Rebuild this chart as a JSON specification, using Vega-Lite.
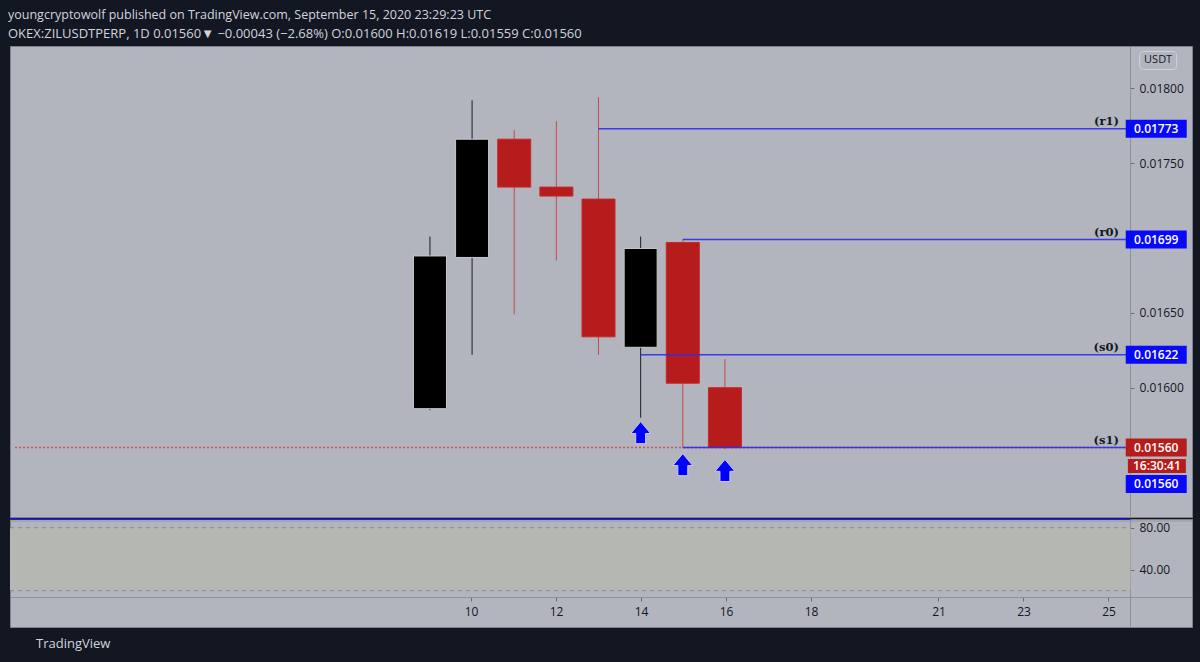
{
  "$schema": "https://vega.github.io/schema/vega-lite/v6.json",
  "background": "#131722",
  "padding": {"left": 8, "top": 9, "right": 10, "bottom": 14},
  "title": {
    "text": "youngcryptowolf published on TradingView.com, September 15, 2020 23:29:23 UTC",
    "subtitle": "OKEX:ZILUSDTPERP, 1D 0.01560▼ −0.00043 (−2.68%) O:0.01600 H:0.01619 L:0.01559 C:0.01560",
    "anchor": "start", "frame": "group", "dx": -2,
    "font": "Open Sans", "fontSize": 12.5, "fontWeight": "normal", "color": "#d1d4dc",
    "subtitleFont": "Open Sans", "subtitleFontSize": 13, "subtitleColor": "#d1d4dc",
    "subtitlePadding": 6, "offset": 5
  },
  "datasets": {
    "candles": [
      {"day": 9, "open": 0.01586, "high": 0.01701, "low": 0.01585, "close": 0.01688},
      {"day": 10, "open": 0.01687, "high": 0.01792, "low": 0.01622, "close": 0.01766},
      {"day": 11, "open": 0.01766, "high": 0.01772, "low": 0.01649, "close": 0.01734},
      {"day": 12, "open": 0.01734, "high": 0.01778, "low": 0.01685, "close": 0.01728},
      {"day": 13, "open": 0.01726, "high": 0.01794, "low": 0.01622, "close": 0.01634},
      {"day": 14, "open": 0.01627, "high": 0.01701, "low": 0.0158, "close": 0.01693},
      {"day": 15, "open": 0.01697, "high": 0.01699, "low": 0.0156, "close": 0.01603},
      {"day": 16, "open": 0.016, "high": 0.01619, "low": 0.01559, "close": 0.0156}
    ],
    "levels": [
      {"name": "(r1)", "price": 0.01773, "start": 13},
      {"name": "(r0)", "price": 0.01699, "start": 15},
      {"name": "(s0)", "price": 0.01622, "start": 14},
      {"name": "(s1)", "price": 0.0156, "start": 15}
    ],
    "last": [{"price": 0.0156}],
    "arrows": [
      {"day": 14, "price": 0.0157},
      {"day": 15, "price": 0.015486},
      {"day": 16, "price": 0.015447}
    ],
    "boxes": [
      {"label": "0.01773", "pos": 0.01773, "kind": "blue"},
      {"label": "0.01699", "pos": 0.01699, "kind": "blue"},
      {"label": "0.01622", "pos": 0.01622, "kind": "blue"},
      {"label": "0.01560", "pos": 0.0156, "kind": "red"},
      {"label": "0.01560", "pos": 0.015357, "kind": "blue"}
    ],
    "timer": [{"label": "16:30:41", "pos": 0.015477}],
    "unit": [{"label": "USDT", "pos": 0.018186}],
    "band": [{"lo": 20, "hi": 80}],
    "bandLines": [{"v": 80}, {"v": 20}]
  },
  "spacing": 0,
  "vconcat": [
    {
      "width": 1182,
      "height": 471,
      "layer": [
        {
          "data": {"name": "candles"},
          "mark": {"type": "rule", "strokeWidth": 1, "clip": true},
          "encoding": {
            "x": {"field": "day", "type": "quantitative", "title": null,
                  "scale": {"domain": [-0.847, 26.965], "nice": false, "zero": false}, "axis": null},
            "y": {"field": "low", "type": "quantitative", "title": null,
                  "scale": {"domain": [0.0151363, 0.0182826], "nice": false, "zero": false},
                  "axis": {"orient": "right", "offset": -62, "values": [0.016, 0.0165, 0.0175, 0.018],
                           "format": ".5f", "tickSize": 4, "labelPadding": 5, "labelAlign": "left",
                           "domainColor": "#8e919a", "tickColor": "#6a6d78",
                           "labelColor": "#131722", "labelFont": "Open Sans", "labelFontSize": 12, "grid": false}},
            "y2": {"field": "high"},
            "color": {"condition": {"test": "datum.close >= datum.open", "value": "#1e1e22"}, "value": "#c44a4a"}
          }
        },
        {
          "data": {"name": "last"},
          "mark": {"type": "rule", "color": "#d23a3a", "strokeDash": [2, 2], "strokeWidth": 1.5, "opacity": 0.8, "clip": true},
          "encoding": {
            "x": {"datum": -0.847, "type": "quantitative"},
            "x2": {"datum": 25.517},
            "y": {"field": "price", "type": "quantitative", "title": null}
          }
        },
        {
          "data": {"name": "candles"},
          "mark": {"type": "bar", "width": 33, "strokeWidth": 1, "clip": true},
          "encoding": {
            "x": {"field": "day", "type": "quantitative", "title": null},
            "y": {"field": "open", "type": "quantitative", "title": null},
            "y2": {"field": "close"},
            "fill": {"condition": {"test": "datum.close >= datum.open", "value": "#000000"}, "value": "#b71c1c"},
            "stroke": {"condition": {"test": "datum.close >= datum.open", "value": "#c6c8ce"}, "value": "#c62828"}
          }
        },
        {
          "data": {"name": "levels"},
          "mark": {"type": "rule", "color": "#2b2bf5", "strokeWidth": 1.5, "opacity": 0.9},
          "encoding": {
            "x": {"field": "start", "type": "quantitative", "title": null},
            "x2": {"datum": 25.517},
            "y": {"field": "price", "type": "quantitative", "title": null}
          }
        },
        {
          "data": {"name": "levels"},
          "mark": {"type": "text", "align": "right", "baseline": "bottom", "dx": -7, "dy": -2,
                   "font": "DejaVu Serif", "fontSize": 11.5, "fontWeight": "bold", "color": "#131722"},
          "encoding": {
            "x": {"datum": 25.517, "type": "quantitative"},
            "y": {"field": "price", "type": "quantitative", "title": null},
            "text": {"field": "name"}
          }
        },
        {
          "data": {"name": "arrows"},
          "mark": {"type": "point", "filled": true, "size": 484,
                   "shape": "M0,-1L0.9,0.08L0.45,0.08L0.45,1L-0.45,1L-0.45,0.08L-0.9,0.08Z",
                   "fill": "#0000ff", "stroke": "#c8c8f2", "strokeWidth": 1, "opacity": 1},
          "encoding": {
            "x": {"field": "day", "type": "quantitative", "title": null},
            "y": {"field": "price", "type": "quantitative", "title": null}
          }
        },
        {
          "data": {"name": "boxes"},
          "mark": {"type": "tick", "orient": "horizontal", "size": 61, "thickness": 18, "opacity": 1},
          "encoding": {
            "x": {"datum": 26.235, "type": "quantitative"},
            "y": {"field": "pos", "type": "quantitative", "title": null},
            "color": {"condition": {"test": "datum.kind == 'blue'", "value": "#0808ff"}, "value": "#b71c1c"}
          }
        },
        {
          "data": {"name": "timer"},
          "mark": {"type": "tick", "orient": "horizontal", "size": 58, "thickness": 14, "color": "#b71c1c", "opacity": 1},
          "encoding": {
            "x": {"datum": 26.25, "type": "quantitative"},
            "y": {"field": "pos", "type": "quantitative", "title": null}
          }
        },
        {
          "data": {"name": "unit"},
          "mark": {"type": "tick", "orient": "horizontal", "size": 37, "thickness": 18, "color": "#b2b5be",
                   "stroke": "#d2d4da", "strokeWidth": 1, "cornerRadius": 4, "opacity": 1},
          "encoding": {
            "x": {"datum": 26.28, "type": "quantitative"},
            "y": {"field": "pos", "type": "quantitative", "title": null}
          }
        },
        {
          "data": {"name": "unit"},
          "mark": {"type": "text", "font": "Open Sans", "fontSize": 11, "color": "#131722", "align": "center", "baseline": "middle"},
          "encoding": {
            "x": {"datum": 26.28, "type": "quantitative"},
            "y": {"field": "pos", "type": "quantitative", "title": null},
            "text": {"field": "label"}
          }
        },
        {
          "data": {"name": "boxes"},
          "mark": {"type": "text", "font": "Open Sans", "fontSize": 12, "fontWeight": 600, "color": "#ffffff", "align": "center", "baseline": "middle"},
          "encoding": {
            "x": {"datum": 26.235, "type": "quantitative"},
            "y": {"field": "pos", "type": "quantitative", "title": null},
            "text": {"field": "label"}
          }
        },
        {
          "data": {"name": "timer"},
          "mark": {"type": "text", "font": "Open Sans", "fontSize": 12, "fontWeight": 600, "color": "#ffffff", "align": "center", "baseline": "middle"},
          "encoding": {
            "x": {"datum": 26.25, "type": "quantitative"},
            "y": {"field": "pos", "type": "quantitative", "title": null},
            "text": {"field": "label"}
          }
        }
      ]
    },
    {
      "width": 1182,
      "height": 108,
      "title": {"text": "TradingView", "orient": "bottom", "anchor": "start", "frame": "group", "dx": 26, "offset": 11,
                "color": "#d1d4dc", "font": "Open Sans", "fontSize": 13, "fontWeight": "normal"},
      "layer": [
        {
          "data": {"name": "band"},
          "mark": {"type": "rect", "color": "#b5b7b3"},
          "encoding": {
            "x": {"datum": -0.847, "type": "quantitative",
                  "scale": {"domain": [-0.847, 26.965], "nice": false, "zero": false},
                  "axis": {"orient": "bottom", "offset": -30, "values": [10, 12, 14, 16, 18, 21, 23, 25],
                           "format": "d", "tickSize": 4, "labelPadding": 5, "title": null,
                           "domainColor": "#8e919a", "tickColor": "#6a6d78",
                           "labelColor": "#131722", "labelFont": "Open Sans", "labelFontSize": 12, "grid": false}},
            "x2": {"datum": 25.517},
            "y": {"field": "lo", "type": "quantitative", "title": null,
                  "scale": {"domain": [-14.6, 88.3], "nice": false, "zero": false},
                  "axis": {"orient": "right", "offset": -62, "values": [80, 40], "format": ".2f",
                           "tickSize": 4, "labelPadding": 5, "labelAlign": "left",
                           "domainColor": "#8e919a", "tickColor": "#6a6d78",
                           "labelColor": "#131722", "labelFont": "Open Sans", "labelFontSize": 12, "grid": false}},
            "y2": {"field": "hi"}
          }
        },
        {
          "data": {"name": "bandLines"},
          "mark": {"type": "rule", "color": "#8a8c92", "strokeDash": [4, 4], "strokeWidth": 1},
          "encoding": {
            "x": {"datum": -0.847, "type": "quantitative"},
            "x2": {"datum": 25.517},
            "y": {"field": "v", "type": "quantitative", "title": null}
          }
        },
        {
          "data": {"name": "band"},
          "mark": {"type": "rule", "color": "#2222d8", "strokeWidth": 1.5},
          "encoding": {
            "x": {"datum": -0.847, "type": "quantitative"},
            "x2": {"datum": 25.517},
            "y": {"datum": 88.0, "type": "quantitative"}
          }
        },
        {
          "data": {"name": "band"},
          "mark": {"type": "rule", "color": "#9598a1", "strokeWidth": 1},
          "encoding": {
            "x": {"datum": -0.847, "type": "quantitative"},
            "x2": {"datum": 26.965},
            "y": {"datum": 86.4, "type": "quantitative"}
          }
        }
      ]
    }
  ],
  "config": {
    "view": {"fill": "#b2b5be", "stroke": "#7e818b", "strokeWidth": 1},
    "concat": {"spacing": 0}
  }
}
